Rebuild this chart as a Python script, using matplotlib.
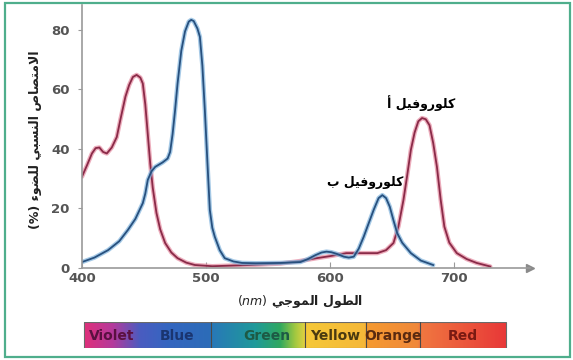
import numpy as np
import matplotlib
matplotlib.use('Agg')
import matplotlib.pyplot as plt
from matplotlib.colors import to_rgb
from matplotlib.patches import Rectangle

#   data (wavelength nm, relative absorption %)
chla_nm = [400, 404, 408, 411, 414, 417, 420, 424, 428, 431, 435, 438, 441,
           444, 447, 449, 451, 453, 455, 457, 460, 463, 467, 472, 477, 484,
           491, 505, 535, 560, 575, 589, 600, 613, 625, 638, 645, 651, 655,
           659, 662, 665, 668, 671, 674, 677, 680, 683, 686, 689, 692, 696,
           702, 710, 718, 729]
chla_abs = [30.7, 34.5, 38.5, 40.3, 40.5, 39.0, 38.5, 40.5, 44.0, 50.0, 57.6,
            61.5, 64.2, 64.9, 64.0, 62.0, 55.0, 45.0, 35.0, 27.0, 18.5, 13.0,
            8.4, 5.2, 3.3, 1.8, 1.0, 0.6, 1.0, 1.5, 2.3, 3.3, 4.0, 5.0, 5.0,
            5.0, 6.0, 8.4, 14.0, 22.8, 31.0, 39.7, 45.5, 49.3, 50.4, 50.0,
            48.0, 42.0, 34.0, 23.0, 13.9, 8.5, 5.0, 3.0, 1.7, 0.5]

chlb_nm = [400, 410, 421, 430, 437, 443, 449, 451, 453, 456, 459, 465, 469,
           471, 473, 475, 477, 480, 483, 486, 488, 490, 493, 495, 497, 499,
           501, 503, 505, 507, 511, 515, 522, 529, 540, 560, 576, 582, 588,
           593, 597, 601, 605, 611, 615, 619, 623, 627, 630, 635, 639, 642,
           645, 648, 651, 654, 658, 665, 673, 683]
chlb_abs = [2.0, 3.5, 6.0, 9.0, 12.8, 16.5, 21.8, 25.0, 29.6, 32.5, 34.0,
            35.5, 36.8, 39.0, 45.0, 53.0, 62.0, 73.0, 79.5, 82.8, 83.4, 83.0,
            80.5, 77.7, 68.0, 53.0, 36.0, 19.5, 13.5, 10.5, 6.0, 3.3, 2.2,
            1.7, 1.6, 1.7, 2.0, 3.0, 4.3, 5.2, 5.5, 5.3, 4.8, 3.8, 3.5, 3.8,
            6.5, 10.5, 13.9, 19.5, 23.5, 24.5, 23.5, 20.6, 16.0, 11.7, 8.5,
            5.0, 2.5, 1.0]

x_ticks = [400, 500, 600, 700]
y_ticks = [0, 20, 40, 60, 80]

#   spectrum bar
band_names = ['Violet', 'Blue', 'Green', 'Yellow', 'Orange', 'Red']
band_label_nm = [424, 477, 549, 604, 651, 707]
band_text_colors = ['#5a1040', '#1a3570', '#1d5a45', '#4a3a10', '#5a2a10',
                    '#7a1a12']
band_edges_nm = [402, 504, 580, 629, 672, 742]
stop_nm = [402, 425, 447, 470, 503, 505, 540, 560, 572, 579, 581, 628, 630,
           671, 673, 742]
stop_colors = ['#e0307a', '#b43a9c', '#4a5cc0', '#3466c0', '#2c6cb8',
               '#2878b8', '#1f9a9a', '#30a860', '#a0c840', '#d8d040',
               '#f5c838', '#f5b838', '#f59a30', '#f0883a', '#f07840',
               '#e83838']

#   arabic text: simple contextual shaping into presentation forms
FORMS = {  # isolated, final, initial, medial
    'ا': ('\uFE8D', '\uFE8E', None, None),
    'أ': ('\uFE83', '\uFE84', None, None),
    'ء': ('\uFE80', None, None, None),
    'ب': ('\uFE8F', '\uFE90', '\uFE91', '\uFE92'),
    'ت': ('\uFE95', '\uFE96', '\uFE97', '\uFE98'),
    'ج': ('\uFE9D', '\uFE9E', '\uFE9F', '\uFEA0'),
    'ر': ('\uFEAD', '\uFEAE', None, None),
    'س': ('\uFEB1', '\uFEB2', '\uFEB3', '\uFEB4'),
    'ص': ('\uFEB9', '\uFEBA', '\uFEBB', '\uFEBC'),
    'ض': ('\uFEBD', '\uFEBE', '\uFEBF', '\uFEC0'),
    'ط': ('\uFEC1', '\uFEC2', '\uFEC3', '\uFEC4'),
    'ف': ('\uFED1', '\uFED2', '\uFED3', '\uFED4'),
    'ك': ('\uFED9', '\uFEDA', '\uFEDB', '\uFEDC'),
    'ل': ('\uFEDD', '\uFEDE', '\uFEDF', '\uFEE0'),
    'م': ('\uFEE1', '\uFEE2', '\uFEE3', '\uFEE4'),
    'ن': ('\uFEE5', '\uFEE6', '\uFEE7', '\uFEE8'),
    'و': ('\uFEED', '\uFEEE', None, None),
    'ي': ('\uFEF1', '\uFEF2', '\uFEF3', '\uFEF4'),
}
LAM_ALEF = {'ا': ('\uFEFB', '\uFEFC'), 'أ': ('\uFEF7', '\uFEF8')}


def shape(s):
    out = []
    i = 0
    while i < len(s):
        c = s[i]
        if c not in FORMS:
            out.append(c)
            i += 1
            continue
        prev = s[i - 1] if i > 0 else ''
        prev_joins = prev in FORMS and FORMS[prev][2] is not None
        nxt = s[i + 1] if i + 1 < len(s) else ''
        if c == 'ل' and nxt in LAM_ALEF:
            out.append(LAM_ALEF[nxt][1 if prev_joins else 0])
            i += 2
            continue
        next_joins = FORMS[c][2] is not None and nxt in FORMS
        if prev_joins and next_joins:
            f = FORMS[c][3]
        elif prev_joins:
            f = FORMS[c][1]
        elif next_joins:
            f = FORMS[c][2]
        else:
            f = FORMS[c][0]
        out.append(f)
        i += 1
    return ''.join(out)[::-1]


AR = ['DejaVu Sans']

W, H = 573, 360
fig = plt.figure(figsize=(W / 100, H / 100), dpi=100)

#   green frame
fig.patches.append(Rectangle((5 / W, 3 / H), 565 / W, 354 / H,
                             transform=fig.transFigure, fill=False,
                             edgecolor='#4fae8c', lw=1.6))

ax = fig.add_axes([82 / W, 92 / H, 448 / W, 263 / H])
ax.set_xlim(400, 761)
ax.set_ylim(0, 88.4)

ax.plot(chla_nm, chla_abs, color='#e58aa0', lw=3.2, alpha=0.7,
        solid_capstyle='round', solid_joinstyle='round')
ax.plot(chla_nm, chla_abs, color='#8a2a48', lw=1.3,
        solid_joinstyle='round')
ax.plot(chlb_nm, chlb_abs, color='#7fb2dc', lw=3.2, alpha=0.7,
        solid_capstyle='round', solid_joinstyle='round')
ax.plot(chlb_nm, chlb_abs, color='#27507e', lw=1.3,
        solid_joinstyle='round')

for s in ['top', 'right']:
    ax.spines[s].set_visible(False)
for s in ['left', 'bottom']:
    ax.spines[s].set_color('#9a9a9a')
    ax.spines[s].set_linewidth(1.2)
ax.plot(1, 0, marker='>', color='#8a8a8a', markersize=6,
        transform=ax.transAxes, clip_on=False)

ax.set_xticks(x_ticks)
ax.set_yticks(y_ticks)
ax.tick_params(axis='x', direction='in', length=4, color='#9a9a9a',
               labelsize=9.5, labelcolor='#555555', pad=3)
ax.tick_params(axis='y', direction='out', length=3, color='#9a9a9a',
               labelsize=9.5, labelcolor='#555555', pad=6)
for lab in ax.get_xticklabels() + ax.get_yticklabels():
    lab.set_fontweight('bold')

ax.text(673, 55.5, shape('كلوروفيل أ'), family=AR, fontsize=9,
        fontweight='bold', ha='center', va='center')
ax.text(628, 28.6, shape('كلوروفيل ب'), family=AR, fontsize=9,
        fontweight='bold', ha='center', va='center')

fig.text(36 / W, 1 - 140 / H, '(%) ' + shape('الامتصاص النسبي للضوء'),
         family=AR, fontsize=9, fontweight='bold', rotation=90,
         ha='center', va='center', color='#222222')
fig.text(300 / W, 1 - 302 / H,
         r'$\mathit{(nm)}$ ' + shape('الطول الموجي'),
         family=AR, fontsize=9, fontweight='bold', ha='center',
         va='center', color='#222222')

#   colour spectrum bar under the axis
bax = fig.add_axes([82 / W, 12 / H, 448 / W, 26 / H])
xs = np.linspace(band_edges_nm[0], band_edges_nm[-1], 600)
rgb = np.array([to_rgb(c) for c in stop_colors])
img = np.stack([np.interp(xs, stop_nm, rgb[:, k]) for k in range(3)], axis=1)
bax.imshow(img[np.newaxis, :, :], aspect='auto',
           extent=[band_edges_nm[0], band_edges_nm[-1], 0, 1])
bax.set_xlim(400, 761)
bax.set_ylim(0, 1)
bax.add_patch(Rectangle((band_edges_nm[0], 0),
                        band_edges_nm[-1] - band_edges_nm[0], 1,
                        fill=False, edgecolor='#6a6a6a', lw=0.8))
for e in band_edges_nm[1:-1]:
    bax.axvline(e, color='#4a4a4a', lw=0.8)
for name, xpos, col in zip(band_names, band_label_nm, band_text_colors):
    bax.text(xpos, 0.48, name, color=col, fontsize=10, fontweight='bold',
             ha='center', va='center')
bax.axis('off')

fig.savefig('out.png', dpi=100)
